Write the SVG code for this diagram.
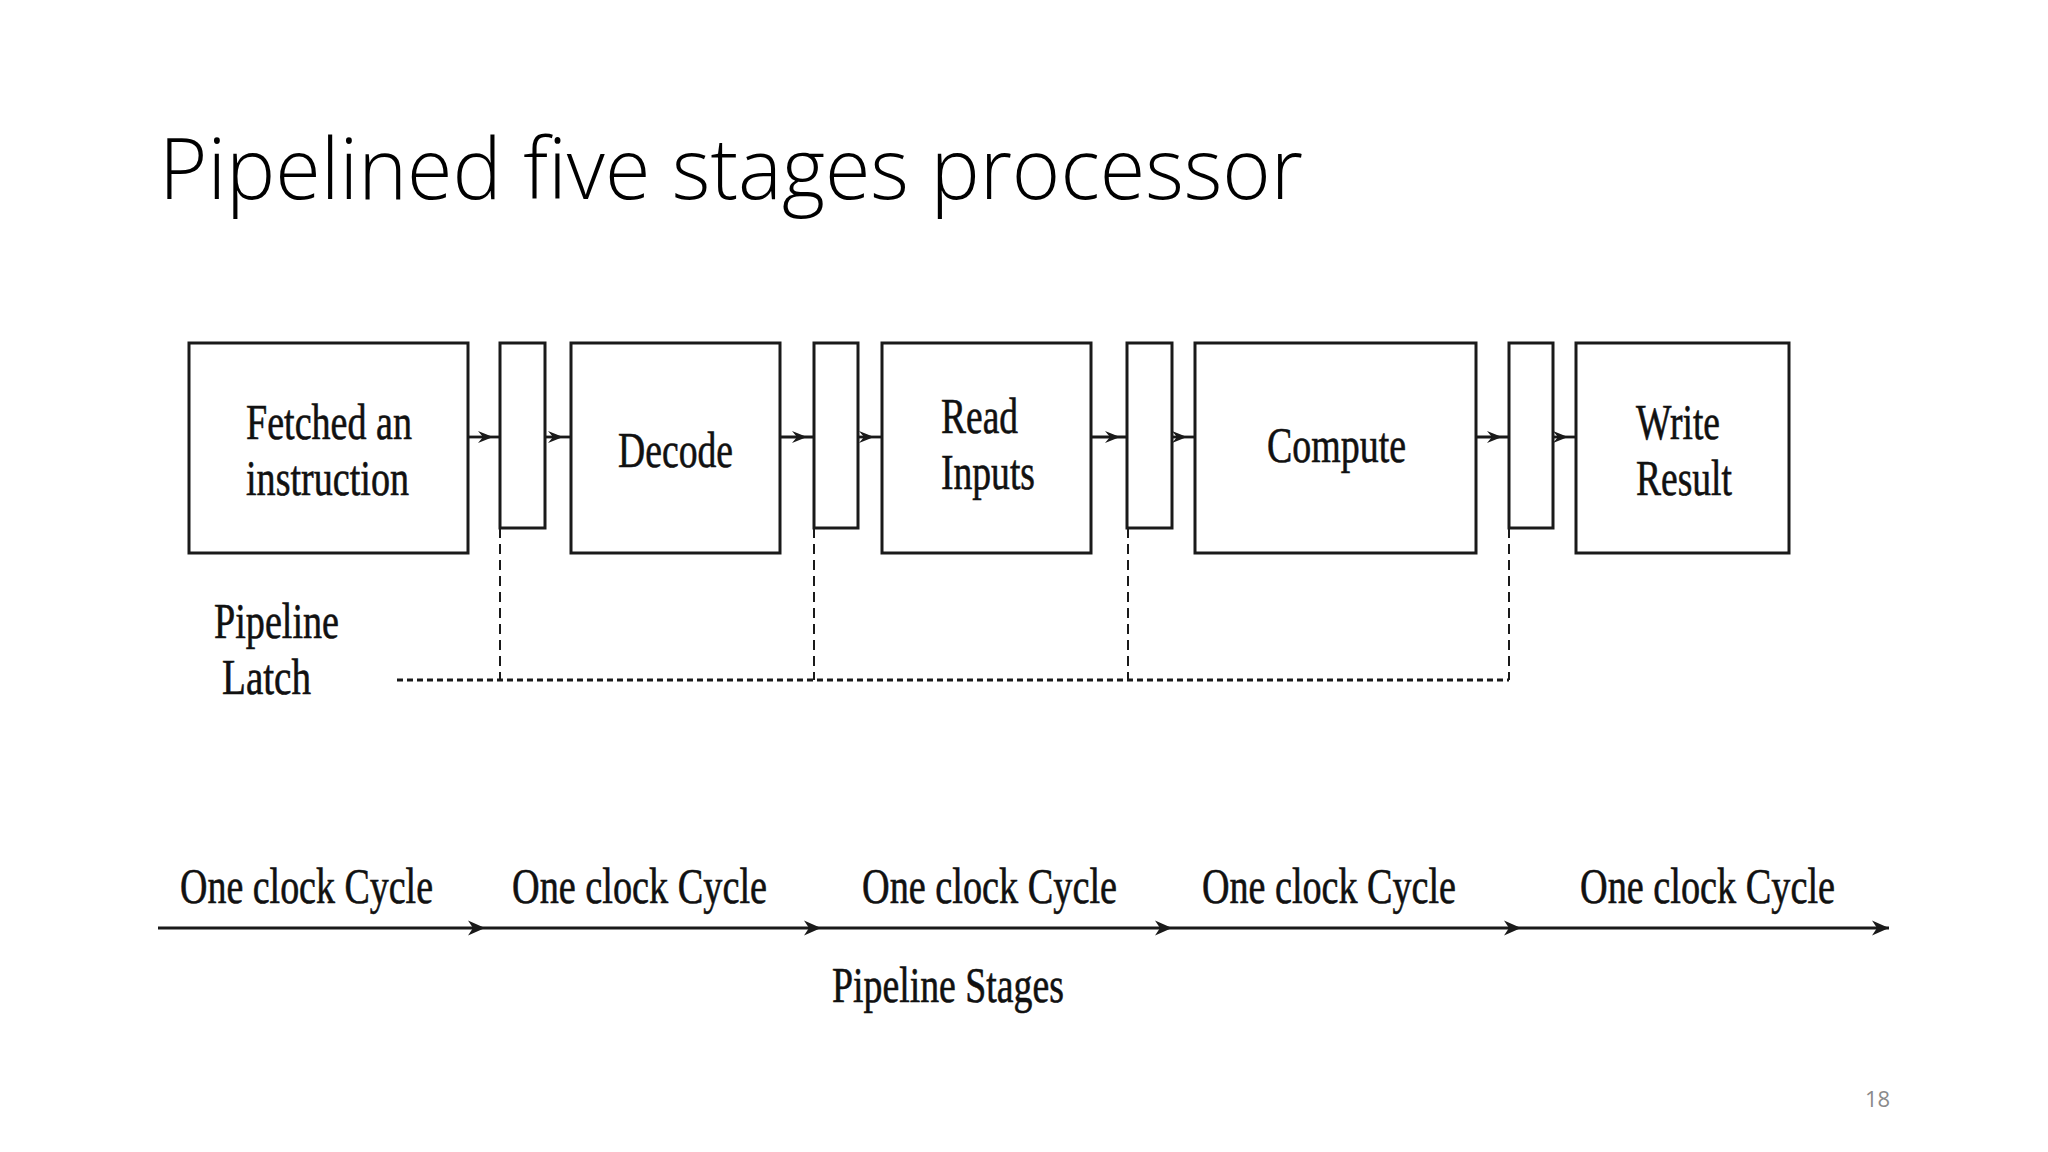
<svg xmlns="http://www.w3.org/2000/svg" width="2048" height="1152" viewBox="0 0 2048 1152">
<style>
.box{fill:#fff;stroke:#1a1a1a;stroke-width:3}
.lbl{font-family:"Liberation Serif","Times New Roman",serif;font-size:50px;fill:#111;stroke:#111;stroke-width:0.6}
.conn{fill:none;stroke:#1a1a1a;stroke-width:2.8}
.axis{fill:none;stroke:#1a1a1a;stroke-width:3}
.vdash{fill:none;stroke:#1a1a1a;stroke-width:2;stroke-dasharray:10 6}
.hdash{fill:none;stroke:#1a1a1a;stroke-width:3;stroke-dasharray:6 4}
.title{font-family:"Open Sans","Liberation Sans",sans-serif;font-weight:300;font-size:84px;fill:#000}
.pg{font-family:"Open Sans","Liberation Sans",sans-serif;font-size:22px;fill:#8a8a8a}
</style>
<defs>
<marker id="small" markerUnits="userSpaceOnUse" viewBox="-17 -8 19 16" refX="0" refY="0" markerWidth="19" markerHeight="16" orient="auto">
<path d="M0,0 L-15,-6 L-10,0 L-15,6 Z" fill="#1a1a1a"/>
</marker>
<marker id="big" markerUnits="userSpaceOnUse" viewBox="-20 -9 22 18" refX="0" refY="0" markerWidth="22" markerHeight="18" orient="auto">
<path d="M0,0 L-17,-7.5 L-12,0 L-17,7.5 Z" fill="#1a1a1a"/>
</marker>
</defs>
<rect width="2048" height="1152" fill="#fff"/>
<text class="title" x="159" y="199" textLength="1144" lengthAdjust="spacingAndGlyphs">Pipelined five stages processor</text>

<g id="connectors">
<path class="conn" marker-mid="url(#small)" d="M468,437 L493,437 L500,437"/>
<path class="conn" marker-mid="url(#small)" d="M545,437 L563,437 L571,437"/>
<path class="conn" marker-mid="url(#small)" d="M780,437 L807,437 L814,437"/>
<path class="conn" marker-mid="url(#small)" d="M858,437 L874,437 L882,437"/>
<path class="conn" marker-mid="url(#small)" d="M1091,437 L1120,437 L1127,437"/>
<path class="conn" marker-mid="url(#small)" d="M1172,437 L1187,437 L1195,437"/>
<path class="conn" marker-mid="url(#small)" d="M1476,437 L1502,437 L1509,437"/>
<path class="conn" marker-mid="url(#small)" d="M1553,437 L1568,437 L1576,437"/>
<path class="vdash" d="M500,528 V680"/>
<path class="vdash" d="M814,528 V680"/>
<path class="vdash" d="M1128,528 V680"/>
<path class="vdash" d="M1509,528 V680"/>
<path class="hdash" d="M397,680 H1509"/>
<path class="axis" marker-mid="url(#big)" marker-end="url(#big)" d="M158,928 L485,928 L821,928 L1172,928 L1521,928 L1889,928"/>
</g>

<g id="fetch"><rect class="box" x="189" y="343" width="279" height="210"/>
<text class="lbl" x="246" y="439" textLength="166" lengthAdjust="spacingAndGlyphs">Fetched an</text>
<text class="lbl" x="246" y="495" textLength="163" lengthAdjust="spacingAndGlyphs">instruction</text></g>
<g id="latch1"><rect class="box" x="500" y="343" width="45" height="185"/></g>
<g id="decode"><rect class="box" x="571" y="343" width="209" height="210"/>
<text class="lbl" x="618" y="467" textLength="115" lengthAdjust="spacingAndGlyphs">Decode</text></g>
<g id="latch2"><rect class="box" x="814" y="343" width="44" height="185"/></g>
<g id="read"><rect class="box" x="882" y="343" width="209" height="210"/>
<text class="lbl" x="941" y="433" textLength="77" lengthAdjust="spacingAndGlyphs">Read</text>
<text class="lbl" x="941" y="489" textLength="94" lengthAdjust="spacingAndGlyphs">Inputs</text></g>
<g id="latch3"><rect class="box" x="1127" y="343" width="45" height="185"/></g>
<g id="compute"><rect class="box" x="1195" y="343" width="281" height="210"/>
<text class="lbl" x="1267" y="462" textLength="139" lengthAdjust="spacingAndGlyphs">Compute</text></g>
<g id="latch4"><rect class="box" x="1509" y="343" width="44" height="185"/></g>
<g id="write"><rect class="box" x="1576" y="343" width="213" height="210"/>
<text class="lbl" x="1636" y="439" textLength="84" lengthAdjust="spacingAndGlyphs">Write</text>
<text class="lbl" x="1636" y="495" textLength="96" lengthAdjust="spacingAndGlyphs">Result</text></g>

<g id="latch-label">
<text class="lbl" x="214" y="638" textLength="125" lengthAdjust="spacingAndGlyphs">Pipeline</text>
<text class="lbl" x="222" y="694" textLength="89" lengthAdjust="spacingAndGlyphs">Latch</text>
</g>

<g id="cycle-labels">
<text class="lbl" x="180" y="903" textLength="253" lengthAdjust="spacingAndGlyphs">One clock Cycle</text>
<text class="lbl" x="512" y="903" textLength="255" lengthAdjust="spacingAndGlyphs">One clock Cycle</text>
<text class="lbl" x="862" y="903" textLength="255" lengthAdjust="spacingAndGlyphs">One clock Cycle</text>
<text class="lbl" x="1202" y="903" textLength="254" lengthAdjust="spacingAndGlyphs">One clock Cycle</text>
<text class="lbl" x="1580" y="903" textLength="255" lengthAdjust="spacingAndGlyphs">One clock Cycle</text>
<text class="lbl" x="832" y="1002" textLength="232" lengthAdjust="spacingAndGlyphs">Pipeline Stages</text>
</g>

<text class="pg" x="1865" y="1107">18</text>
</svg>
